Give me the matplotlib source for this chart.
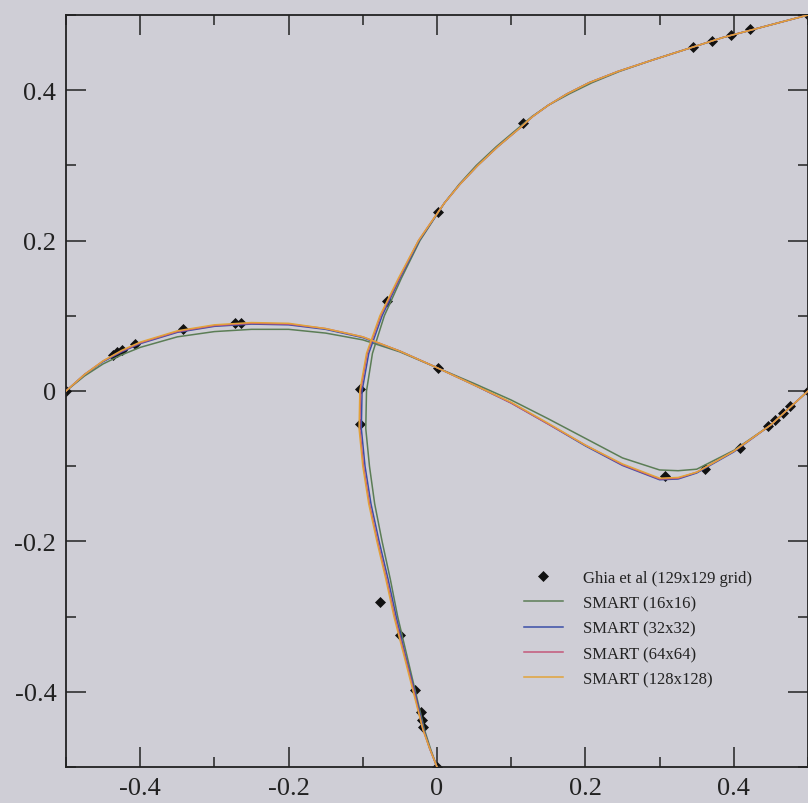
import matplotlib
matplotlib.use("Agg")
import matplotlib.pyplot as plt
from matplotlib.ticker import MultipleLocator, FixedLocator

# ---------------- data ----------------
# Ghia et al. reference points: u along vertical centreline (u, y)
ghia_u = [0.5, 0.422, 0.396, 0.370, 0.345, 0.116, 0.002, -0.068, -0.104, -0.104,
          -0.077, -0.050, -0.030, -0.021, -0.020, -0.019, 0.0]
ghia_uy = [0.5, 0.481, 0.473, 0.465, 0.457, 0.356, 0.238, 0.120, 0.003, -0.044,
           -0.280, -0.325, -0.397, -0.427, -0.437, -0.447, -0.5]
# Ghia et al. reference points: v along horizontal centreline (x, v)
ghia_vx = [0.5, 0.476, 0.466, 0.456, 0.446, 0.408, 0.361, 0.307, 0.001, -0.264,
           -0.272, -0.342, -0.407, -0.425, -0.431, -0.437, -0.5]
ghia_v = [0.0, -0.020, -0.029, -0.038, -0.047, -0.076, -0.104, -0.113, 0.031, 0.091,
          0.091, 0.083, 0.063, 0.055, 0.052, 0.048, 0.0]

# SMART solutions, u-profile (u as function of y)
u_y = [-0.5, -0.475, -0.45, -0.4, -0.35, -0.3, -0.25, -0.2, -0.15, -0.1, -0.05,
       0.0, 0.05, 0.1, 0.15, 0.2, 0.25, 0.275, 0.3, 0.325, 0.35, 0.365, 0.38,
       0.395, 0.41, 0.425, 0.44, 0.47, 0.5]
u_16 = [0.0, -0.009, -0.017, -0.029, -0.041, -0.053, -0.063, -0.074, -0.084, -0.091,
        -0.096, -0.095, -0.087, -0.071, -0.048, -0.023, 0.010, 0.030, 0.053, 0.080,
        0.110, 0.128, 0.150, 0.178, 0.209, 0.246, 0.290, 0.385, 0.5]
u_32 = [0.0, -0.010, -0.018, -0.030, -0.043, -0.055, -0.066, -0.078, -0.089, -0.097,
        -0.102, -0.101, -0.092, -0.074, -0.050, -0.024, 0.010, 0.031, 0.055, 0.082,
        0.112, 0.129, 0.150, 0.175, 0.205, 0.244, 0.290, 0.385, 0.5]
u_64 = [0.0, -0.010, -0.019, -0.031, -0.044, -0.057, -0.068, -0.080, -0.091, -0.099,
        -0.104, -0.103, -0.094, -0.076, -0.051, -0.025, 0.010, 0.031, 0.055, 0.082,
        0.112, 0.129, 0.150, 0.175, 0.205, 0.244, 0.290, 0.385, 0.5]
u_128 = [0.0, -0.010, -0.019, -0.032, -0.045, -0.058, -0.069, -0.081, -0.092, -0.100,
         -0.105, -0.104, -0.095, -0.077, -0.052, -0.025, 0.010, 0.031, 0.055, 0.082,
         0.112, 0.129, 0.150, 0.175, 0.205, 0.244, 0.290, 0.385, 0.5]

# SMART solutions, v-profile (v as function of x)
v_x = [-0.5, -0.475, -0.45, -0.425, -0.4, -0.35, -0.3, -0.25, -0.2, -0.15, -0.1,
       -0.05, 0.0, 0.05, 0.1, 0.15, 0.2, 0.25, 0.3, 0.325, 0.35, 0.4, 0.45, 0.5]
v_16 = [0.0, 0.020, 0.036, 0.048, 0.058, 0.072, 0.079, 0.082, 0.082, 0.077, 0.068,
        0.052, 0.031, 0.010, -0.012, -0.037, -0.063, -0.089, -0.105, -0.106, -0.104,
        -0.079, -0.045, 0.0]
v_32 = [0.0, 0.022, 0.039, 0.052, 0.063, 0.078, 0.086, 0.089, 0.088, 0.082, 0.071,
        0.053, 0.031, 0.008, -0.016, -0.044, -0.073, -0.099, -0.118, -0.117, -0.109,
        -0.081, -0.045, 0.0]
v_64 = [0.0, 0.022, 0.040, 0.053, 0.064, 0.079, 0.087, 0.090, 0.089, 0.083, 0.072,
        0.053, 0.031, 0.008, -0.016, -0.044, -0.072, -0.098, -0.117, -0.116, -0.108,
        -0.080, -0.045, 0.0]
v_128 = [0.0, 0.022, 0.040, 0.054, 0.065, 0.080, 0.088, 0.091, 0.090, 0.083, 0.072,
         0.053, 0.031, 0.008, -0.015, -0.043, -0.072, -0.097, -0.116, -0.115, -0.108,
         -0.080, -0.045, 0.0]

xtick_vals = [-0.4, -0.2, 0.0, 0.2, 0.4]
xtick_labels = ["-0.4", "-0.2", "0", "0.2", "0.4"]
ytick_vals = [-0.4, -0.2, 0.0, 0.2, 0.4]
ytick_labels = ["-0.4", "-0.2", "0", "0.2", "0.4"]

labels = ["Ghia et al (129x129 grid)", "SMART (16x16)", "SMART (32x32)",
          "SMART (64x64)", "SMART (128x128)"]
colors = ["#5b7d55", "#3b4fa8", "#c4587a", "#e2a33a"]

# ---------------- figure ----------------
bg = "#cfced6"
plt.rcParams["font.family"] = ["Liberation Serif", "DejaVu Serif"]
fig = plt.figure(figsize=(8.08, 8.04), dpi=100, facecolor=bg)
ax = fig.add_axes([66 / 808, 1 - 768 / 804, 742 / 808, 752 / 804])
ax.set_facecolor(bg)

# reference points (under the lines)
ghia_h, = ax.plot(ghia_u, ghia_uy, linestyle="none", marker="D", markersize=5,
                  color="#111111", markeredgewidth=0.5, label=labels[0], zorder=2)
ax.plot(ghia_vx, ghia_v, linestyle="none", marker="D", markersize=5,
        color="#111111", markeredgewidth=0.5, zorder=2)

series_u = [u_16, u_32, u_64, u_128]
series_v = [v_16, v_32, v_64, v_128]
handles = [ghia_h]
for uu, vv, c, lab in zip(series_u, series_v, colors, labels[1:]):
    h, = ax.plot(uu, u_y, color=c, lw=1.1, label=lab, zorder=3)
    ax.plot(v_x, vv, color=c, lw=1.1, zorder=3)
    handles.append(h)

ax.set_xlim(-0.5, 0.5)
ax.set_ylim(-0.5, 0.5)
ax.xaxis.set_major_locator(FixedLocator(xtick_vals))
ax.yaxis.set_major_locator(FixedLocator(ytick_vals))
ax.set_xticklabels(xtick_labels)
ax.set_yticklabels(ytick_labels)
ax.xaxis.set_minor_locator(MultipleLocator(0.1))
ax.yaxis.set_minor_locator(MultipleLocator(0.1))
ax.tick_params(which="both", direction="in", top=True, right=True,
               color="#222222", width=1.1)
ax.tick_params(which="major", length=14.5, labelsize=19, pad=7,
               labelcolor="#222222")
ax.tick_params(which="minor", length=7.5)
for s in ax.spines.values():
    s.set_color("#222222")
    s.set_linewidth(1.3)

leg = ax.legend(handles=handles, labels=labels, loc="upper left",
                bbox_to_anchor=(0.617, 0.262), frameon=False, fontsize=12,
                handlelength=2.35, handletextpad=1.2, labelspacing=0.56,
                borderpad=0, borderaxespad=0, numpoints=1)
for t in leg.get_texts():
    t.set_color("#222222")

fig.savefig("out.png", dpi=100, facecolor=bg)
